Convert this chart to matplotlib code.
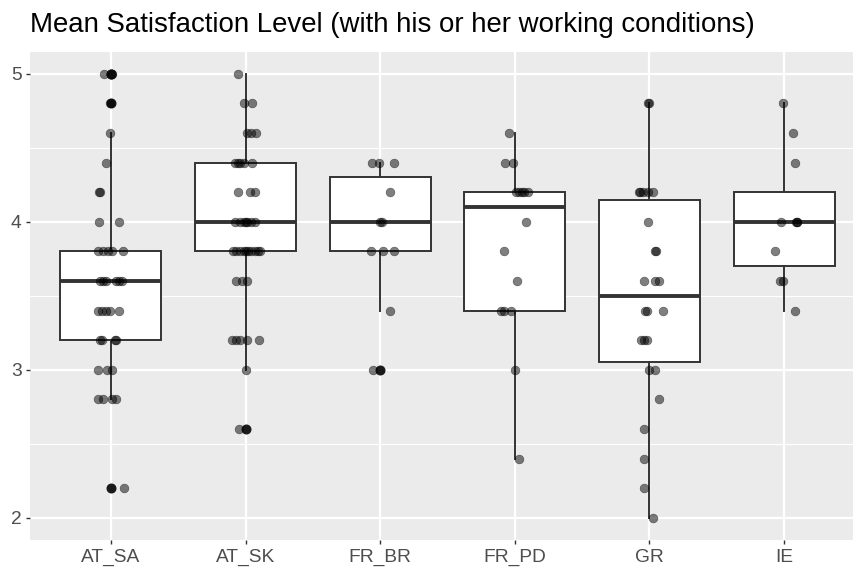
import matplotlib
matplotlib.use("Agg")
import matplotlib.pyplot as plt
from matplotlib.ticker import MultipleLocator

plt.rcParams['font.family'] = ['Liberation Sans', 'DejaVu Sans']

groups = ["AT_SA", "AT_SK", "FR_BR", "FR_PD", "GR", "IE"]

# satisfaction values per group (0.2 steps)
at_sa = [5.0, 5.0, 4.8, 4.6, 4.4, 4.2, 4.2, 4.0, 4.0,
         3.8, 3.8, 3.8, 3.8, 3.8, 3.6, 3.6, 3.6, 3.6, 3.6, 3.6,
         3.4, 3.4, 3.4, 3.4, 3.4, 3.2, 3.2, 3.2, 3.2,
         3.0, 3.0, 3.0, 2.8, 2.8, 2.8, 2.8, 2.2]
at_sk = [5.0, 4.8, 4.8, 4.6, 4.6, 4.6, 4.4, 4.4, 4.4, 4.4, 4.4,
         4.2, 4.2, 4.2, 4.0, 4.0, 4.0, 4.0, 4.0, 4.0, 4.0,
         3.8, 3.8, 3.8, 3.8, 3.8, 3.8, 3.8, 3.8, 3.8, 3.8,
         3.6, 3.6, 3.6, 3.2, 3.2, 3.2, 3.2, 3.2, 3.0, 2.6]
fr_br = [4.4, 4.4, 4.4, 4.2, 4.0, 4.0, 3.8, 3.8, 3.8, 3.4, 3.0]
fr_pd = [4.6, 4.4, 4.4, 4.2, 4.2, 4.2, 4.2, 4.2, 4.0, 3.8, 3.6,
         3.4, 3.4, 3.4, 3.0, 2.4]
gr = [4.8, 4.8, 4.2, 4.2, 4.2, 4.2, 4.2, 4.0, 3.8, 3.8,
      3.6, 3.6, 3.6, 3.4, 3.4, 3.4, 3.2, 3.2, 3.2, 3.0, 3.0,
      2.8, 2.6, 2.4, 2.2, 2.0]
ie = [4.8, 4.6, 4.4, 4.0, 4.0, 4.0, 4.0, 3.8, 3.6, 3.6, 3.4]

# horizontal jitter of each point (category units), as seen in the picture
at_sa_jit = [-0.05, 0.01, -0.01, -0.01, -0.04, -0.09, -0.08, -0.09, 0.06,
             -0.10, -0.06, -0.02, 0.01, 0.09, -0.08, -0.06, -0.04, 0.04, 0.06, 0.08,
             -0.10, -0.07, -0.04, -0.01, 0.06, -0.08, -0.07, 0.03, 0.04,
             -0.10, -0.03, 0.01, -0.10, -0.06, 0.01, 0.04, 0.10]
at_sk_jit = [-0.06, -0.01, 0.05, 0.01, 0.04, 0.08, -0.08, -0.06, -0.04, -0.01, 0.05,
             -0.06, 0.03, 0.07, -0.08, -0.04, -0.01, 0.0, 0.01, 0.04, 0.07,
             -0.09, -0.07, -0.04, -0.01, 0.0, 0.02, 0.04, 0.07, 0.09, 0.11,
             -0.07, -0.03, 0.01, -0.10, -0.07, -0.04, 0.01, 0.10, 0.0, -0.05]
fr_br_jit = [-0.06, -0.01, 0.10, 0.07, 0.0, 0.01, -0.07, 0.02, 0.10, 0.07, -0.05]
fr_pd_jit = [-0.04, -0.07, -0.01, 0.01, 0.03, 0.05, 0.07, 0.10, 0.08, -0.08, 0.02,
             -0.10, -0.08, -0.03, 0.0, 0.03]
gr_jit = [-0.01, 0.0, -0.08, -0.07, -0.05, -0.01, 0.03, -0.01, 0.04, 0.05,
          -0.04, 0.04, 0.07, -0.03, -0.02, 0.10, -0.06, -0.04, -0.02, 0.0, 0.04,
          0.07, -0.04, -0.04, -0.04, 0.03]
ie_jit = [-0.01, 0.07, 0.08, -0.02, 0.09, 0.10, 0.10, -0.07, -0.03, -0.01, 0.08]

values = [at_sa, at_sk, fr_br, fr_pd, gr, ie]
jitters = [at_sa_jit, at_sk_jit, fr_br_jit, fr_pd_jit, gr_jit, ie_jit]

W, H = 854, 567
fig = plt.figure(figsize=(W / 100, H / 100), dpi=100)
# panel: left edge ~30px, bottom ~540px, right runs past the image edge like the original
ax = fig.add_axes([30.2 / W, 27 / H, 834.6 / W, 488.4 / H])

ax.set_facecolor('#EBEBEB')
for s in ax.spines.values():
    s.set_visible(False)

line_col = '#333333'
ax.boxplot(values, positions=range(len(groups)), widths=0.75, patch_artist=True,
           boxprops=dict(facecolor='white', edgecolor=line_col, linewidth=1.4),
           medianprops=dict(color=line_col, linewidth=2.8, solid_capstyle='butt'),
           whiskerprops=dict(color=line_col, linewidth=1.4),
           capprops=dict(linewidth=0),
           flierprops=dict(marker='o', markerfacecolor='#1a1a1a', markeredgecolor='#1a1a1a',
                           markersize=6.2),
           zorder=2)

for i, (vals, jit) in enumerate(zip(values, jitters)):
    xs = [i + j for j in jit]
    ax.scatter(xs, vals, s=40, c='black', alpha=0.5, edgecolors='black',
               linewidths=0.4, zorder=3)

ax.set_xlim(-0.6, len(groups) - 0.4)
ax.set_ylim(1.85, 5.15)
ax.set_xticks(range(len(groups)))
ax.set_xticklabels(groups)
ax.set_yticks([2, 3, 4, 5])
ax.yaxis.set_minor_locator(MultipleLocator(0.5))

ax.set_axisbelow(True)
ax.grid(which='major', color='white', linewidth=1.6)
ax.grid(which='minor', axis='y', color='white', linewidth=0.8)
ax.tick_params(which='major', length=3.2, width=1.0, color=line_col,
               labelcolor='#4D4D4D', labelsize=13.8, pad=3)
ax.tick_params(which='minor', length=0)

fig.text(30 / W, 1 - 25 / H, "Mean Satisfaction Level (with his or her working conditions)",
         fontsize=19.9, color='black', va='center', ha='left')

fig.savefig("out.png", dpi=100)
